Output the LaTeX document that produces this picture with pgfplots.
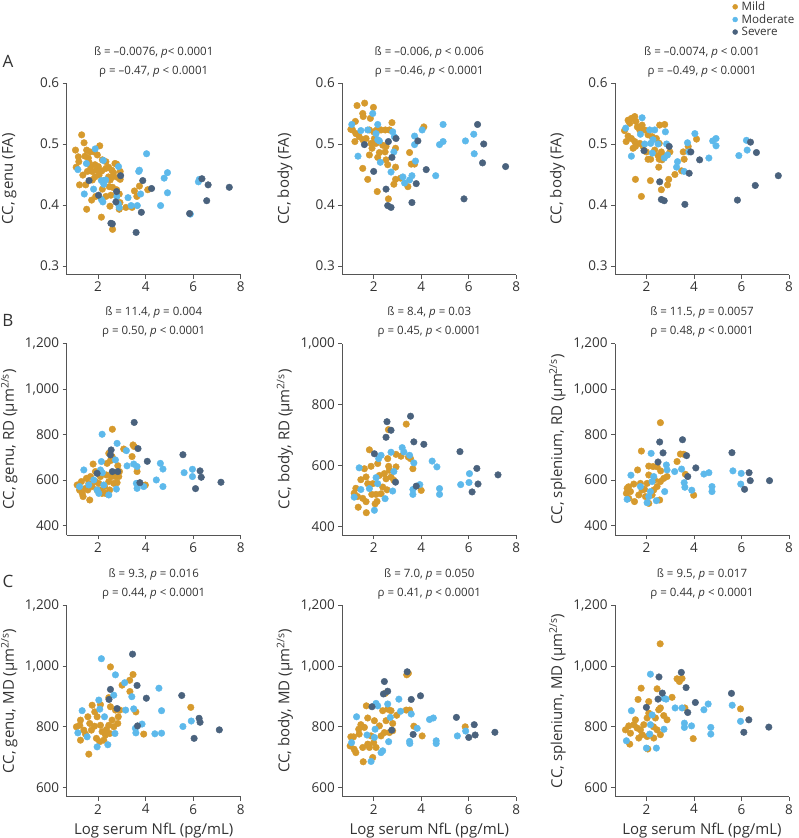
\documentclass[border=0pt]{standalone}
\usepackage{fontspec}
\setmainfont{Open Sans}
\usepackage{pgfplots}
\pgfplotsset{compat=1.18}
\definecolor{mild}{HTML}{D69A2D}
\definecolor{moderate}{HTML}{5DB9EB}
\definecolor{severe}{HTML}{4A627D}
\definecolor{txt}{HTML}{333333}
\definecolor{axcol}{HTML}{555555}
\pgfplotsset{
 panel/.style={
  scale only axis, width=174pt, height=191.5pt, anchor=south west,
  xmin=0.68, xmax=8, xtick={2,4,6,8},
  axis x line*=bottom, axis y line*=left,
  xtick pos=bottom, ytick pos=left,
  axis line style={axcol, line width=0.8pt},
  tick style={axcol, line width=0.8pt},
  tick align=outside, major tick length=4pt,
  /pgf/number format/assume math mode=true,
  scaled ticks=false,
  tick label style={font=\fontsize{13.5}{15}\selectfont, text=txt},
  label style={font=\fontsize{15}{17}\selectfont, text=txt},
  xlabel style={yshift=-2pt},
  ylabel style={at={(axis description cs:-0.33,0.5)}, anchor=center},
  title style={font=\fontsize{11.5}{19}\selectfont, text=txt, align=center, inner sep=0pt, anchor=south, at={(0.5,1)}},
  every axis plot/.append style={only marks, mark=*, mark size=3.3pt},
 },
 rowA/.style={ymin=0.286, ymax=0.6, ytick={0.3,0.4,0.5,0.6}, yticklabel style={/pgf/number format/.cd, fixed, precision=1}},
 rowB/.style={ymin=358, ymax=1200, ytick={400,600,800,1000,1200}},
 rowBb/.style={ymin=373, ymax=1000, ytick={400,600,800,1000}},
 rowC/.style={ymin=570, ymax=1200, ytick={600,800,1000,1200}, xlabel={Log serum NfL (pg/mL)}},
 pm/.style={color=mild}, pd/.style={color=moderate}, ps/.style={color=severe},
}
\begin{document}
\begin{tikzpicture}
\path[use as bounding box] (0,0) rectangle (798pt,-838pt);
\node[font=\fontsize{17}{20}\selectfont, text=txt] at (8pt,-61pt) {A};
\node[font=\fontsize{17}{20}\selectfont, text=txt] at (8pt,-320pt) {B};
\node[font=\fontsize{17}{20}\selectfont, text=txt] at (8pt,-581pt) {C};

% ---------- A1
\begin{axis}[panel, rowA, at={(66.7pt,-274.5pt)}, ylabel={CC, genu (FA)},
 title={ß = –0.0076, \textit{p}< 0.0001\\ρ = –0.47, \textit{p} < 0.0001}]
\addplot[pm] coordinates {(1.31,0.515)(1.41,0.502)(1.05,0.49)(1.17,0.479)(1.08,0.462)(1.19,0.471)(1.52,0.49)(1.59,0.477)(1.66,0.487)(1.83,0.487)(2.07,0.497)(1.97,0.482)(2.18,0.474)(2.01,0.463)(1.87,0.466)(1.69,0.463)(1.55,0.455)(1.36,0.449)(1.22,0.433)(1.48,0.433)(1.76,0.441)(1.87,0.446)(2.04,0.449)(2.33,0.46)(2.44,0.462)(2.58,0.457)(2.78,0.467)(2.93,0.455)(2.83,0.445)(2.93,0.442)(2.61,0.446)(2.47,0.43)(2.61,0.429)(2.78,0.425)(2.89,0.418)(2.54,0.416)(2.33,0.414)(2.18,0.426)(1.9,0.414)(1.73,0.408)(1.52,0.393)(2.14,0.38)(2.5,0.398)(2.61,0.36)(2.89,0.393)(2.92,0.404)(3.17,0.396)(3.43,0.396)(3.53,0.423)(3.63,0.414)(3.74,0.431)(4.09,0.425)(2.71,0.468)(2.33,0.471)(2.65,0.453)(2.16,0.456)(1.93,0.457)(2.44,0.446)(2.51,0.441)(1.45,0.48)(1.62,0.47)(2.25,0.44)(1.75,0.455)};
\addplot[pd] coordinates {(1.15,0.458)(1.51,0.468)(1.42,0.418)(1.81,0.426)(1.88,0.492)(2.22,0.473)(2.14,0.409)(2.32,0.441)(2.24,0.434)(2.79,0.414)(2.89,0.396)(2.86,0.463)(3.26,0.412)(3.39,0.399)(3.65,0.399)(3.79,0.418)(4.04,0.484)(3.74,0.457)(3.71,0.455)(4.78,0.444)(4.92,0.453)(4.92,0.42)(4.63,0.399)(5.88,0.385)(6.22,0.438)(6.26,0.442)(2.14,0.44)(2.2,0.405)(2.85,0.402)};
\addplot[ps] coordinates {(1.62,0.44)(2.02,0.416)(2.95,0.448)(2.78,0.422)(2.54,0.37)(2.6,0.369)(3.6,0.355)(3.82,0.388)(3.88,0.44)(4.25,0.427)(5.85,0.386)(6.37,0.443)(6.63,0.433)(6.57,0.407)(7.52,0.429)(2.75,0.405)};
\end{axis}

% ---------- A2
\begin{axis}[panel, rowA, at={(342.3pt,-274.5pt)}, ylabel={CC, body (FA)},
 title={ß = –0.006, \textit{p} < 0.006\\ρ = –0.46, \textit{p} < 0.0001}]
\addplot[pm] coordinates {(1.3,0.563)(1.62,0.567)(1.99,0.56)(1.54,0.55)(1.56,0.545)(1.86,0.542)(1.04,0.524)(1.23,0.537)(1.11,0.523)(1.25,0.517)(1.39,0.512)(1.21,0.504)(1.54,0.507)(1.68,0.509)(1.82,0.523)(2.0,0.52)(2.13,0.523)(2.31,0.523)(2.49,0.523)(2.66,0.523)(2.77,0.535)(1.89,0.501)(1.93,0.493)(2.1,0.501)(2.38,0.498)(2.52,0.496)(2.92,0.493)(2.24,0.486)(1.82,0.482)(2.17,0.478)(2.52,0.474)(2.59,0.466)(1.54,0.46)(1.75,0.442)(2.15,0.422)(2.62,0.41)(2.92,0.462)(2.92,0.442)(2.85,0.434)(3.13,0.444)(3.44,0.43)(3.51,0.486)(3.58,0.467)(3.72,0.467)(4.11,0.528)(2.48,0.487)(2.03,0.509)};
\addplot[pd] coordinates {(1.08,0.532)(1.34,0.48)(1.46,0.522)(1.75,0.523)(1.96,0.55)(2.17,0.532)(2.17,0.507)(2.24,0.505)(2.28,0.47)(2.73,0.454)(2.8,0.52)(2.87,0.512)(2.85,0.487)(3.23,0.446)(3.3,0.436)(3.51,0.441)(3.61,0.448)(3.72,0.499)(3.72,0.513)(3.76,0.472)(4.04,0.523)(4.61,0.448)(4.77,0.499)(4.92,0.504)(4.92,0.532)(5.86,0.505)(6.21,0.516)(6.23,0.484)(2.1,0.517)};
\addplot[ps] coordinates {(1.61,0.499)(2.0,0.455)(2.62,0.504)(2.94,0.509)(2.77,0.478)(2.52,0.426)(2.59,0.399)(2.73,0.396)(3.61,0.404)(3.86,0.505)(3.79,0.435)(4.21,0.458)(5.8,0.41)(6.37,0.532)(6.63,0.5)(6.58,0.469)(7.55,0.463)};
\end{axis}

% ---------- A3
\begin{axis}[panel, rowA, at={(615pt,-274.5pt)}, ylabel={CC, body (FA)},
 title={ß = –0.0074, \textit{p} < 0.001\\ρ = –0.49, \textit{p} < 0.0001},
 legend style={at={(axis description cs:0.674,1.43)}, anchor=north west, draw=none, fill=none,
   font=\fontsize{11.6}{13}\selectfont, text=txt, row sep=0.8pt, inner sep=0pt,
   nodes={inner sep=0.8pt}},
 legend cell align=left,
 legend image code/.code={\fill (2.5pt,0pt) circle (2.5pt);}]
\addplot[pm] coordinates {(1.54,0.442)(1.79,0.414)(2.17,0.44)(2.63,0.425)(2.89,0.433)(2.94,0.442)(3.2,0.45)(3.48,0.456)(3.55,0.487)(3.59,0.475)(3.76,0.496)(4.11,0.508)(1.23,0.539)(1.37,0.542)(1.51,0.545)(1.56,0.537)(1.3,0.534)(1.08,0.522)(1.15,0.504)(1.23,0.513)(1.37,0.509)(1.51,0.504)(1.44,0.493)(1.54,0.496)(1.72,0.501)(1.86,0.496)(2.0,0.487)(1.93,0.523)(2.07,0.515)(2.07,0.475)(2.18,0.475)(2.35,0.49)(2.24,0.512)(2.42,0.509)(2.54,0.501)(2.56,0.531)(2.77,0.532)(2.63,0.487)(2.54,0.475)(2.52,0.462)(2.66,0.474)(2.77,0.48)(2.99,0.487)(2.49,0.481)(1.72,0.523)(1.82,0.531)(1.62,0.528)};
\addplot[pd] coordinates {(1.13,0.526)(1.37,0.48)(1.82,0.543)(1.75,0.516)(2.14,0.523)(2.35,0.523)(2.18,0.501)(2.25,0.485)(2.28,0.507)(2.75,0.477)(2.8,0.52)(2.85,0.5)(2.89,0.482)(3.31,0.471)(3.27,0.462)(3.59,0.455)(3.73,0.502)(3.79,0.487)(4.04,0.517)(4.63,0.477)(4.79,0.505)(4.93,0.509)(4.93,0.497)(5.89,0.481)(6.21,0.506)(6.24,0.49)(1.93,0.5)(2.49,0.5)};
\addplot[ps] coordinates {(1.9,0.489)(2.56,0.438)(2.63,0.409)(2.75,0.407)(2.96,0.496)(3.62,0.401)(3.8,0.452)(3.87,0.487)(4.24,0.474)(5.83,0.408)(6.38,0.503)(6.63,0.486)(6.58,0.432)(7.55,0.448)};
\legend{\hspace{3pt}Mild, \hspace{3pt}Moderate, \hspace{3pt}Severe}
\end{axis}

% ---------- B1
\begin{axis}[panel, rowB, at={(66.7pt,-535pt)}, ylabel={CC, genu, RD (µm\textsuperscript{2/s})},
 title={ß = 11.4, \textit{p} = 0.004\\ρ = 0.50, \textit{p} < 0.0001}]
\addplot[pm] coordinates {(2.6,823)(3.08,736)(3.47,754)(3.52,747)(3.43,703)(3.64,637)(3.99,578)(2.45,717)(2.59,703)(1.12,578)(1.22,556)(1.3,593)(1.33,541)(1.37,527)(1.47,563)(1.57,556)(1.65,512)(1.61,585)(1.68,615)(1.75,571)(1.79,670)(1.89,637)(1.89,593)(1.96,556)(2.03,585)(2.1,615)(2.13,556)(2.27,571)(2.35,622)(2.38,673)(2.45,593)(2.49,556)(2.56,615)(2.66,585)(2.73,615)(2.8,588)(2.83,663)(2.87,615)(2.9,637)(2.31,541)(2.17,541)(1.51,607)(2.52,685)};
\addplot[pd] coordinates {(1.4,644)(2.17,801)(2.8,761)(2.14,681)(2.73,688)(3.19,729)(3.22,662)(3.5,670)(3.64,659)(3.61,585)(3.64,563)(3.92,571)(4.62,673)(4.45,600)(4.73,648)(4.73,571)(5.62,632)(5.97,647)(5.97,615)(1.22,571)(1.61,578)(1.82,600)(2.03,541)(2.24,578)(2.45,534)(1.96,556)(2.1,644)(2.77,560)(2.18,632)};
\addplot[ps] coordinates {(3.52,853)(2.55,732)(2.52,710)(2.6,637)(2.83,637)(3.68,738)(3.76,588)(4.07,682)(5.57,711)(6.29,640)(6.34,612)(6.1,562)(7.17,590)(1.96,629)};
\end{axis}

% ---------- B2
\begin{axis}[panel, rowBb, at={(342.3pt,-535pt)}, ylabel={CC, body, RD (µm\textsuperscript{2/s})},
 title={ß = 8.4, \textit{p} = 0.03\\ρ = 0.45, \textit{p} < 0.0001}]
\addplot[pm] coordinates {(1.82,652)(3.37,736)(2.62,718)(3.65,590)(4.0,519)(3.55,623)(3.46,628)(3.15,631)(2.94,637)(2.59,623)(2.63,598)(2.94,596)(2.17,607)(1.89,598)(1.61,590)(1.46,554)(1.68,563)(1.75,541)(1.96,541)(2.24,568)(2.45,574)(2.52,557)(2.73,563)(2.85,552)(1.25,526)(1.18,510)(1.32,499)(1.54,493)(1.68,482)(1.92,506)(2.1,506)(1.35,464)(1.69,446)(2.06,475)(2.14,483)(2.38,530)(2.31,508)(2.56,521)(2.66,585)};
\addplot[pd] coordinates {(1.39,593)(2.31,634)(2.21,623)(2.73,644)(3.2,659)(3.27,645)(3.51,634)(3.69,609)(4.46,615)(4.66,596)(6.03,574)(6.01,545)(5.66,538)(3.94,538)(3.65,522)(3.65,506)(4.77,525)(4.77,506)(2.85,581)(2.1,561)(2.17,541)(1.82,525)(1.46,522)(1.18,497)(2.48,492)(2.8,517)(2.03,454)};
\addplot[ps] coordinates {(2.56,744)(2.73,716)(2.52,693)(3.55,762)(3.69,678)(4.11,670)(2.03,639)(5.63,646)(6.34,591)(6.39,540)(6.14,514)(7.23,570)(3.79,533)(2.92,546)};
\end{axis}

% ---------- B3
\begin{axis}[panel, rowB, at={(615pt,-535pt)}, ylabel={CC, splenium, RD (µm\textsuperscript{2/s})},
 title={ß = 11.5, \textit{p} = 0.0057\\ρ = 0.48, \textit{p} < 0.0001}]
\addplot[pm] coordinates {(2.59,852)(1.79,727)(1.63,644)(2.1,622)(3.29,681)(3.43,714)(3.57,713)(3.64,625)(3.99,533)(2.45,658)(2.1,661)(2.28,659)(1.19,563)(1.33,549)(1.16,541)(1.26,519)(1.47,582)(1.68,534)(1.82,556)(1.96,527)(2.1,497)(2.24,534)(2.45,571)(2.59,593)(2.73,607)(2.87,615)(2.56,512)(2.03,585)(1.92,559)(2.31,556)(1.75,585)(1.5,505)(1.25,570)(2.6,640)(2.35,600)};
\addplot[pd] coordinates {(1.35,621)(1.19,515)(2.2,717)(2.31,615)(2.84,666)(2.87,644)(3.19,637)(3.48,648)(3.59,588)(3.62,568)(3.91,555)(4.42,626)(4.63,632)(4.76,571)(4.76,549)(5.64,640)(5.99,629)(5.97,582)(1.75,571)(2.03,500)(2.17,549)(2.42,509)(2.77,549)(2.24,593)(2.1,527)};
\addplot[ps] coordinates {(2.56,767)(2.7,719)(2.49,679)(3.52,777)(3.69,707)(4.08,653)(5.6,720)(6.32,632)(6.37,597)(6.13,559)(7.18,597)(3.74,615)};
\end{axis}

% ---------- C1
\begin{axis}[panel, rowC, at={(66.7pt,-796.7pt)}, ylabel={CC, genu, MD (µm\textsuperscript{2/s})},
 title={ß = 9.3, \textit{p} = 0.016\\ρ = 0.44, \textit{p} < 0.0001}]
\addplot[pm] coordinates {(2.52,997)(3.33,953)(3.47,972)(3.34,916)(3.59,849)(3.92,776)(5.9,864)(1.61,710)(3.01,937)(2.45,896)(2.1,873)(1.75,871)(2.52,866)(2.73,855)(1.09,800)(1.23,805)(1.26,822)(1.4,789)(1.47,776)(1.26,756)(1.65,811)(1.72,789)(1.85,802)(1.96,833)(2.1,805)(2.17,784)(1.93,762)(2.07,751)(2.24,756)(2.35,791)(2.45,805)(2.59,822)(2.66,800)(2.83,811)(2.85,833)(2.92,855)(2.49,778)(2.31,773)(1.57,833)(1.86,849)};
\addplot[pd] coordinates {(2.14,1024)(2.73,971)(3.12,945)(2.66,904)(2.03,888)(1.33,853)(2.07,858)(2.27,833)(3.42,899)(3.5,859)(3.16,855)(4.56,927)(4.67,853)(3.57,795)(3.85,809)(3.59,780)(4.39,777)(4.67,779)(5.57,801)(5.92,819)(1.15,780)(1.54,767)(1.96,734)(2.41,741)(2.71,778)};
\addplot[ps] coordinates {(3.45,1039)(2.52,923)(2.46,890)(3.64,936)(4.03,894)(5.52,903)(6.25,828)(6.29,815)(6.04,762)(7.1,790)(2.8,860)(3.66,803)};
\end{axis}

% ---------- C2
\begin{axis}[panel, rowC, at={(342.3pt,-796.7pt)}, ylabel={CC, body, MD (µm\textsuperscript{2/s})},
 title={ß = 7.0, \textit{p} = 0.050\\ρ = 0.41, \textit{p} < 0.0001}]
\addplot[pm] coordinates {(3.39,971)(3.46,976)(2.49,910)(1.69,869)(3.37,855)(3.51,855)(3.69,802)(4.04,770)(5.85,800)(1.56,685)(1.96,699)(1.04,767)(1.15,767)(1.01,737)(1.18,726)(1.25,715)(1.39,776)(1.46,807)(1.37,792)(1.61,798)(1.75,829)(2.03,820)(1.89,770)(1.75,743)(1.54,732)(1.82,732)(2.1,732)(2.31,770)(2.45,781)(2.66,781)(2.8,811)(2.8,787)(2.52,820)(2.38,853)(2.59,858)(2.97,838)(2.73,853)(2.24,803)(2.0,748)};
\addplot[pd] coordinates {(2.1,877)(2.17,869)(3.06,891)(2.59,875)(3.13,851)(3.58,842)(2.7,831)(2.06,792)(1.72,773)(1.28,833)(1.07,748)(2.03,765)(2.63,751)(2.38,721)(2.31,715)(1.89,686)(3.83,795)(3.51,752)(3.52,745)(4.63,754)(4.63,745)(4.35,824)(4.51,829)(5.52,770)(5.87,786)};
\addplot[ps] coordinates {(3.41,981)(2.45,949)(2.59,917)(2.41,908)(3.58,890)(3.97,902)(1.93,866)(5.48,831)(6.23,807)(6.27,773)(6.0,765)(7.1,782)(3.66,775)(2.76,789)};
\end{axis}

% ---------- C3
\begin{axis}[panel, rowC, at={(615pt,-796.7pt)}, ylabel={CC, splenium, MD (µm\textsuperscript{2/s})},
 title={ß = 9.5, \textit{p} = 0.017\\ρ = 0.44, \textit{p} < 0.0001}]
\addplot[pm] coordinates {(2.58,1073)(1.78,927)(1.65,890)(2.1,883)(2.45,925)(3.29,958)(3.39,949)(3.5,959)(3.08,897)(3.62,862)(3.97,761)(5.96,859)(2.06,727)(1.12,790)(1.26,803)(1.33,779)(1.3,743)(1.47,807)(1.54,823)(1.61,796)(1.68,763)(1.82,774)(1.89,807)(2.03,829)(2.1,845)(2.38,829)(2.52,856)(2.59,862)(2.73,837)(2.87,823)(2.45,790)(2.31,763)(2.59,774)(2.03,768)(1.75,790)(2.3,800)};
\addplot[pd] coordinates {(2.17,973)(1.37,853)(1.16,754)(2.24,839)(2.73,894)(2.83,891)(2.74,792)(3.21,862)(3.5,862)(3.6,812)(3.6,798)(3.9,803)(4.42,856)(4.6,875)(4.71,798)(4.71,776)(5.61,871)(5.96,818)(2.0,730)(2.42,730)(2.17,807)(2.14,776)};
\addplot[ps] coordinates {(2.53,964)(3.47,979)(3.67,929)(2.67,911)(2.49,891)(2.0,864)(4.06,880)(3.74,847)(5.58,910)(6.31,823)(6.1,782)(7.15,799)};
\end{axis}
\end{tikzpicture}
\end{document}
